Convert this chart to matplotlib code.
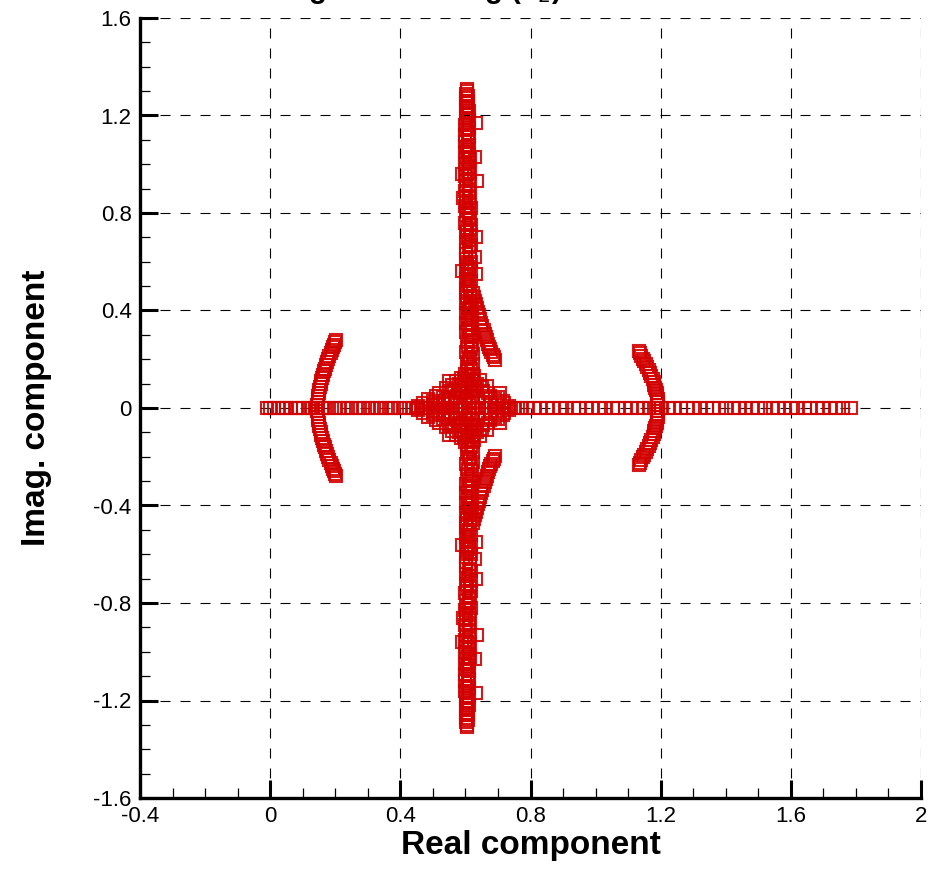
import matplotlib
matplotlib.use("Agg")
import matplotlib.pyplot as plt
from matplotlib.ticker import MultipleLocator, FixedLocator

plt.rcParams['font.family'] = ['Liberation Sans', 'DejaVu Sans']

# ---- data ----
# eigenvalues lying on the real axis
real_axis_re = [-0.01, 0.0, 0.012, 0.025, 0.04, 0.05, 0.063, 0.078, 0.09, 0.1, 0.118, 0.13, 0.142, 0.158,
                0.17, 0.182, 0.2, 0.212, 0.226, 0.24, 0.252, 0.27, 0.284, 0.3, 0.312, 0.328, 0.34, 0.356,
                0.37, 0.382, 0.4, 0.41, 0.426, 0.44, 0.452, 0.468, 0.48, 0.49, 0.5, 0.512, 0.52, 0.53,
                0.54, 0.548, 0.56, 0.57, 0.58, 0.588, 0.6, 0.61, 0.622, 0.63, 0.64, 0.65, 0.66, 0.67,
                0.68, 0.69, 0.7, 0.712, 0.72, 0.73, 0.74, 0.75, 0.762, 0.772, 0.79, 0.81,
                0.83, 0.852, 0.87, 0.89, 0.91, 0.935, 0.95, 0.972, 0.99, 1.01, 1.03, 1.052, 1.07, 1.09,
                1.11, 1.13, 1.15, 1.165, 1.18, 1.2, 1.222, 1.24, 1.262, 1.28, 1.3, 1.32, 1.343, 1.36,
                1.38, 1.4, 1.425, 1.44, 1.46, 1.48, 1.5, 1.52, 1.545, 1.56, 1.58, 1.6, 1.62, 1.645,
                1.66, 1.68, 1.7, 1.72, 1.74, 1.76, 1.785]

# vertical column near Re = 0.61 (upper half; lower half are the conjugates)
column_im = [0.02, 0.03, 0.04, 0.05, 0.06, 0.07, 0.08, 0.09, 0.1, 0.11, 0.12, 0.13, 0.14, 0.15, 0.16,
             0.17, 0.18, 0.19, 0.2, 0.21, 0.22, 0.23, 0.24, 0.25, 0.26, 0.27, 0.28, 0.29, 0.3, 0.31,
             0.32, 0.33, 0.34, 0.35, 0.36, 0.37, 0.38, 0.39, 0.4, 0.41, 0.42, 0.43, 0.44, 0.45, 0.46,
             0.47, 0.48, 0.49, 0.5, 0.51, 0.52, 0.53, 0.54, 0.55, 0.56, 0.57, 0.58, 0.59, 0.6, 0.61,
             0.62, 0.63, 0.64, 0.65, 0.66, 0.67, 0.68, 0.69, 0.7, 0.71, 0.72, 0.73, 0.74, 0.75, 0.76,
             0.77, 0.78, 0.79, 0.8, 0.81, 0.82, 0.83, 0.84, 0.85, 0.86, 0.87, 0.88, 0.89, 0.9, 0.91,
             0.92, 0.93, 0.94, 0.95, 0.96, 0.97, 0.98, 0.99, 1.0, 1.01, 1.02, 1.03, 1.04, 1.05, 1.06,
             1.07, 1.08, 1.09, 1.1, 1.11, 1.12, 1.13, 1.14, 1.15, 1.16, 1.17, 1.18, 1.19, 1.2, 1.21,
             1.22, 1.23, 1.24, 1.25, 1.26, 1.27, 1.28, 1.29, 1.3, 1.31]
column_re = [0.612, 0.622, 0.602, 0.618, 0.608, 0.624, 0.603, 0.616, 0.621, 0.606, 0.619, 0.61, 0.624, 0.604,
             0.617, 0.609, 0.622, 0.605, 0.615, 0.611, 0.623, 0.603, 0.616, 0.609, 0.621, 0.604, 0.617, 0.61,
             0.62, 0.603, 0.615, 0.608, 0.621, 0.602, 0.614, 0.607, 0.619, 0.603, 0.613, 0.609, 0.62, 0.602,
             0.615, 0.606, 0.618, 0.603, 0.613, 0.601, 0.611, 0.605, 0.617, 0.602, 0.612, 0.604, 0.616, 0.601,
             0.611, 0.604, 0.617, 0.602, 0.613, 0.603, 0.615, 0.601, 0.611, 0.616, 0.602, 0.612, 0.605, 0.617,
             0.601, 0.613, 0.604, 0.616, 0.6, 0.61, 0.614, 0.602, 0.612, 0.604, 0.616, 0.6, 0.611, 0.603,
             0.614, 0.601, 0.612, 0.6, 0.611, 0.603, 0.615, 0.601, 0.61, 0.6, 0.609, 0.613, 0.601, 0.611,
             0.6, 0.608, 0.613, 0.601, 0.61, 0.6, 0.609, 0.602, 0.612, 0.6, 0.607, 0.611, 0.6, 0.609,
             0.602, 0.611, 0.6, 0.607, 0.61, 0.601, 0.608, 0.602, 0.61, 0.601, 0.607, 0.603, 0.609, 0.601,
             0.607, 0.602, 0.606, 0.604]

# scattered points beside the column
outlier_re = [0.633, 0.59, 0.635, 0.593, 0.634, 0.59, 0.632, 0.628, 0.63]
outlier_im = [1.17, 0.96, 0.93, 0.86, 0.70, 0.56, 0.55, 1.03, 0.62]

# branches leaving the column
branch_re = [0.622, 0.626, 0.629, 0.632, 0.635, 0.638, 0.642, 0.645, 0.649, 0.652, 0.656, 0.659, 0.663,
             0.666, 0.67, 0.673, 0.677, 0.68, 0.684, 0.687, 0.69]
branch_im = [0.47, 0.455, 0.44, 0.425, 0.41, 0.395, 0.38, 0.365, 0.35, 0.335, 0.32, 0.305, 0.29,
             0.277, 0.264, 0.252, 0.24, 0.229, 0.218, 0.208, 0.198]

# cluster around (0.6, 0)
cluster_re = [0.455, 0.47, 0.485, 0.5, 0.51, 0.52, 0.53, 0.54, 0.55, 0.56, 0.57, 0.575, 0.585, 0.59,
              0.6, 0.625, 0.635, 0.645, 0.655, 0.665, 0.675, 0.69, 0.705, 0.72, 0.735, 0.53, 0.55,
              0.57, 0.58, 0.64, 0.66, 0.545, 0.6, 0.5, 0.515, 0.535, 0.555, 0.565, 0.58, 0.595,
              0.63, 0.65, 0.67, 0.68, 0.7, 0.715, 0.62, 0.59]
cluster_im = [0.01, 0.02, 0.035, 0.03, 0.05, 0.06, 0.045, 0.08, 0.07, 0.095, 0.11, 0.05, 0.125, 0.09,
              0.14, 0.13, 0.1, 0.115, 0.07, 0.09, 0.05, 0.035, 0.06, 0.02, 0.01, 0.015, 0.11, 0.025,
              0.06, 0.04, 0.025, 0.04, 0.05, 0.012, 0.02, 0.03, 0.035, 0.075, 0.1, 0.12,
              0.075, 0.085, 0.06, 0.025, 0.045, 0.03, 0.11, 0.065]

# left arc (upper half)
left_arc_re = [0.145, 0.145, 0.146, 0.147, 0.148, 0.149, 0.151, 0.153, 0.155, 0.157, 0.159, 0.162, 0.165,
               0.168, 0.171, 0.175, 0.178, 0.182, 0.186, 0.19, 0.194, 0.197, 0.2, 0.203]
left_arc_im = [0.0, 0.012, 0.025, 0.037, 0.05, 0.062, 0.075, 0.087, 0.1, 0.112, 0.125, 0.137, 0.15,
               0.162, 0.175, 0.187, 0.2, 0.212, 0.225, 0.237, 0.25, 0.26, 0.27, 0.28]

# right arc (upper half)
right_arc_re = [1.193, 1.193, 1.192, 1.191, 1.19, 1.188, 1.186, 1.184, 1.181, 1.178, 1.175, 1.171,
                1.167, 1.163, 1.158, 1.154, 1.149, 1.145, 1.141, 1.137, 1.133]
right_arc_im = [0.0, 0.012, 0.024, 0.036, 0.048, 0.06, 0.072, 0.084, 0.096, 0.108, 0.12, 0.132,
                0.144, 0.156, 0.168, 0.18, 0.192, 0.203, 0.214, 0.225, 0.235]

x_ticks = [-0.4, 0, 0.4, 0.8, 1.2, 1.6, 2]
x_ticklabels = ['-0.4', '0', '0.4', '0.8', '1.2', '1.6', '2']
y_ticks = [-1.6, -1.2, -0.8, -0.4, 0, 0.4, 0.8, 1.2, 1.6]
y_ticklabels = ['-1.6', '-1.2', '-0.8', '-0.4', '0', '0.4', '0.8', '1.2', '1.6']

title_text = 'Eigenvals using ($\\lambda_2$)'

# ---- plot ----
fig = plt.figure(figsize=(9.42, 8.72), dpi=100)
ax = fig.add_axes([140 / 942, 74 / 872, 781 / 942, 780 / 872])

red = '#d20000'
mkw = dict(linestyle='none', marker='s', markersize=8.3, markerfacecolor='none',
           markeredgecolor=red, markeredgewidth=1.5, alpha=0.9, clip_on=False, zorder=3)


def both(re, im):
    ax.plot(re, im, **mkw)
    ax.plot(re, [-v for v in im], **mkw)


ax.plot(real_axis_re, [0] * len(real_axis_re), **mkw)
both(column_re, column_im)
both(outlier_re, outlier_im)
both(branch_re, branch_im)
both(cluster_re, cluster_im)
both(left_arc_re, left_arc_im)
both(right_arc_re, right_arc_im)

ax.set_xlim(-0.4, 2)
ax.set_ylim(-1.6, 1.6)
ax.xaxis.set_major_locator(FixedLocator(x_ticks))
ax.set_xticklabels(x_ticklabels)
ax.yaxis.set_major_locator(FixedLocator(y_ticks))
ax.set_yticklabels(y_ticklabels)
ax.xaxis.set_minor_locator(MultipleLocator(0.1))
ax.yaxis.set_minor_locator(MultipleLocator(0.1))

for s in ['top', 'right']:
    ax.spines[s].set_visible(False)
for s in ['left', 'bottom']:
    ax.spines[s].set_linewidth(2.4)
    ax.spines[s].set_capstyle('projecting')

ax.tick_params(which='major', direction='in', length=13, width=2.2, labelsize=16, pad=6,
               top=False, right=False)
ax.tick_params(which='minor', direction='in', length=7, width=0.9, top=False, right=False)

ax.set_axisbelow(True)
ax.grid(True, which='major', color='black', linestyle=(0, (9, 9)), linewidth=0.8)

ax.set_xlabel('Real component', fontsize=24, fontweight='bold', labelpad=2)
ax.set_ylabel('Imag. component', fontsize=24, fontweight='bold', labelpad=30)

fig.text(281 / 942, 1 + 1.5 / 872, title_text, fontsize=21, fontweight='bold',
         ha='left', va='baseline')

fig.savefig('out.png', dpi=100)
